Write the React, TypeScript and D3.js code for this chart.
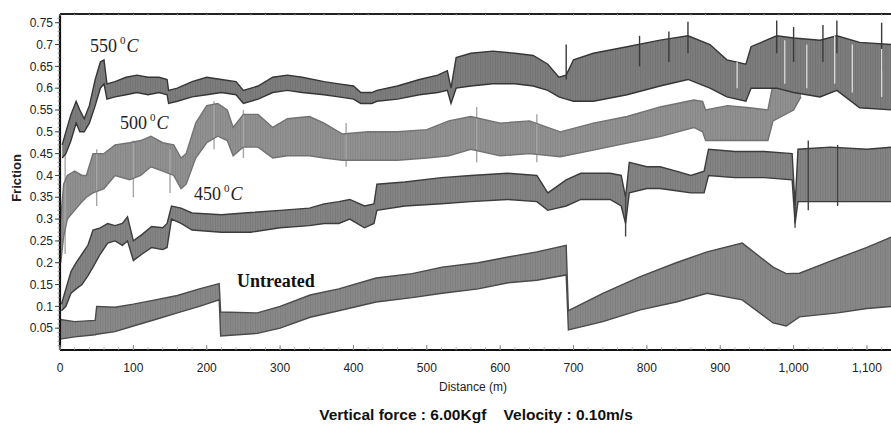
import React from 'react';
import * as d3 from 'd3';

// [distance (m), lower friction, upper friction]
type Row = [number, number, number];

const band550: Row[] = [
  [3, 0.44, 0.47], [8, 0.45, 0.5], [15, 0.48, 0.54], [22, 0.52, 0.57], [27, 0.5, 0.55],
  [33, 0.5, 0.53], [40, 0.52, 0.56], [48, 0.56, 0.62], [55, 0.6, 0.66], [60, 0.61, 0.665],
  [64, 0.575, 0.61], [75, 0.58, 0.615], [90, 0.585, 0.625], [105, 0.59, 0.63], [120, 0.585, 0.625],
  [135, 0.59, 0.625], [146, 0.585, 0.62], [148, 0.565, 0.595], [160, 0.57, 0.6], [180, 0.58, 0.615],
  [200, 0.585, 0.625], [220, 0.59, 0.62], [240, 0.585, 0.615], [250, 0.565, 0.595], [270, 0.575, 0.605],
  [290, 0.59, 0.625], [310, 0.595, 0.63], [330, 0.59, 0.625], [360, 0.585, 0.615], [380, 0.58, 0.61],
  [400, 0.575, 0.605], [410, 0.565, 0.59], [425, 0.565, 0.59], [432, 0.57, 0.595], [460, 0.575, 0.605],
  [490, 0.585, 0.62], [515, 0.59, 0.63], [528, 0.595, 0.64], [533, 0.565, 0.6], [540, 0.6, 0.67],
  [560, 0.605, 0.68], [590, 0.61, 0.685], [620, 0.61, 0.68], [645, 0.605, 0.675], [665, 0.595, 0.655],
  [680, 0.58, 0.625], [690, 0.575, 0.63], [700, 0.57, 0.665], [727, 0.57, 0.68], [773, 0.585, 0.695],
  [818, 0.605, 0.71], [856, 0.62, 0.72], [886, 0.6, 0.7], [909, 0.58, 0.665], [935, 0.57, 0.655],
  [942, 0.6, 0.695], [977, 0.6, 0.72], [1000, 0.59, 0.715], [1036, 0.58, 0.71], [1059, 0.595, 0.72],
  [1090, 0.555, 0.705], [1135, 0.55, 0.7],
];

const band500: Row[] = [
  [1, 0.2, 0.3], [5, 0.26, 0.38], [10, 0.3, 0.4], [20, 0.32, 0.41], [30, 0.34, 0.4],
  [36, 0.35, 0.4], [45, 0.36, 0.45], [60, 0.37, 0.45], [75, 0.4, 0.47], [95, 0.39, 0.475],
  [110, 0.4, 0.48], [124, 0.42, 0.49], [140, 0.41, 0.475], [155, 0.4, 0.47], [165, 0.37, 0.44],
  [172, 0.38, 0.45], [185, 0.44, 0.52], [200, 0.475, 0.56], [215, 0.49, 0.565], [228, 0.48, 0.55],
  [236, 0.445, 0.51], [250, 0.465, 0.54], [270, 0.465, 0.54], [290, 0.44, 0.51], [310, 0.445, 0.53],
  [340, 0.445, 0.535], [360, 0.44, 0.52], [385, 0.435, 0.495], [420, 0.435, 0.5], [460, 0.435, 0.5],
  [500, 0.44, 0.505], [530, 0.445, 0.525], [560, 0.46, 0.535], [600, 0.445, 0.52], [640, 0.45, 0.525],
  [682, 0.443, 0.5], [727, 0.458, 0.52], [773, 0.474, 0.535], [818, 0.489, 0.557], [864, 0.51, 0.573],
  [876, 0.5, 0.57], [880, 0.48, 0.55], [910, 0.48, 0.56], [940, 0.48, 0.555], [965, 0.48, 0.55],
  [972, 0.525, 0.61], [1000, 0.55, 0.6], [1010, 0.58, 0.6],
];

const band450: Row[] = [
  [2, 0.09, 0.105], [8, 0.1, 0.14], [15, 0.13, 0.18], [22, 0.14, 0.2], [30, 0.15, 0.22],
  [38, 0.17, 0.24], [45, 0.19, 0.275], [55, 0.22, 0.28], [65, 0.245, 0.29], [75, 0.25, 0.285],
  [85, 0.24, 0.29], [92, 0.25, 0.305], [100, 0.205, 0.25], [112, 0.22, 0.265], [125, 0.235, 0.283],
  [140, 0.23, 0.28], [146, 0.235, 0.29], [152, 0.3, 0.33], [165, 0.29, 0.325], [180, 0.275, 0.314],
  [220, 0.27, 0.31], [260, 0.27, 0.315], [300, 0.28, 0.32], [340, 0.285, 0.325], [360, 0.29, 0.335],
  [380, 0.29, 0.34], [395, 0.3, 0.345], [415, 0.28, 0.33], [428, 0.29, 0.335], [432, 0.32, 0.38],
  [470, 0.33, 0.385], [520, 0.335, 0.395], [560, 0.34, 0.4], [610, 0.345, 0.405], [650, 0.34, 0.4],
  [665, 0.32, 0.36], [690, 0.33, 0.39], [710, 0.345, 0.405], [750, 0.345, 0.405], [765, 0.33, 0.4],
  [771, 0.29, 0.35], [776, 0.36, 0.43], [800, 0.37, 0.42], [818, 0.37, 0.42], [840, 0.365, 0.41],
  [860, 0.36, 0.4], [878, 0.36, 0.41], [884, 0.4, 0.46], [920, 0.395, 0.455], [960, 0.395, 0.455],
  [998, 0.39, 0.45], [1002, 0.29, 0.33], [1006, 0.34, 0.46], [1050, 0.34, 0.465], [1100, 0.34, 0.46],
  [1135, 0.34, 0.465],
];

const bandUntreated: Row[] = [
  [0, 0.025, 0.07], [20, 0.03, 0.065], [48, 0.035, 0.068], [50, 0.036, 0.1], [75, 0.042, 0.098],
  [100, 0.055, 0.105], [130, 0.07, 0.115], [160, 0.085, 0.125], [190, 0.1, 0.14], [217, 0.115, 0.152],
  [219, 0.032, 0.087], [269, 0.038, 0.085], [300, 0.05, 0.1], [341, 0.075, 0.126], [380, 0.09, 0.14],
  [431, 0.11, 0.165], [480, 0.12, 0.175], [521, 0.13, 0.19], [570, 0.14, 0.2], [611, 0.154, 0.213],
  [650, 0.16, 0.225], [690, 0.172, 0.24], [693, 0.046, 0.09], [740, 0.065, 0.13], [791, 0.092, 0.168],
  [840, 0.11, 0.2], [882, 0.13, 0.225], [930, 0.115, 0.245], [972, 0.062, 0.19], [990, 0.055, 0.175],
  [1008, 0.076, 0.176], [1060, 0.085, 0.21], [1100, 0.095, 0.235], [1135, 0.1, 0.26],
];

// spikes: [distance, from, to]
const spikes550: Row[] = [
  [690, 0.62, 0.7], [790, 0.65, 0.72], [830, 0.66, 0.73], [856, 0.68, 0.752], [977, 0.68, 0.755],
  [1000, 0.66, 0.74], [1040, 0.66, 0.745], [1059, 0.68, 0.755], [1120, 0.64, 0.75],
];
const gaps550: Row[] = [
  [923, 0.6, 0.66], [988, 0.61, 0.71], [1018, 0.6, 0.7], [1056, 0.61, 0.72], [1080, 0.59, 0.7], [1120, 0.58, 0.69],
];
const spikes500: Row[] = [
  [7, 0.22, 0.47], [50, 0.33, 0.46], [100, 0.35, 0.48], [150, 0.36, 0.46], [210, 0.46, 0.57],
  [250, 0.44, 0.55], [390, 0.42, 0.52], [568, 0.43, 0.557], [650, 0.43, 0.54],
];
const spikes450: Row[] = [
  [771, 0.26, 0.35], [1002, 0.28, 0.33], [1020, 0.32, 0.48], [1060, 0.33, 0.47],
];

const yTicks = [0.05, 0.1, 0.15, 0.2, 0.25, 0.3, 0.35, 0.4, 0.45, 0.5, 0.55, 0.6, 0.65, 0.7, 0.75];
const xTicks = [0, 100, 200, 300, 400, 500, 600, 700, 800, 900, 1000, 1100];

const W = 891;
const H = 429;
const left = 60;
const top = 14;
const bottom = 350;

const x = d3.scaleLinear().domain([0, 1150]).range([left, left + 0.7336 * 1150]);
const y = d3.scaleLinear().domain([0, 0.77]).range([bottom, top]);

const area = d3.area<Row>().x(d => x(d[0])).y0(d => y(d[1])).y1(d => y(d[2]));
const lowLine = d3.line<Row>().x(d => x(d[0])).y(d => y(d[1]));
const highLine = d3.line<Row>().x(d => x(d[0])).y(d => y(d[2]));

const series = [
  { id: 's500', data: band500, fill: '#929292', stripe: '#858585', edge: '#727272', spikes: spikes500, spikeColor: '#a6a6a6' },
  { id: 's550', data: band550, fill: '#7e7e7e', stripe: '#727272', edge: '#363636', spikes: spikes550, spikeColor: '#3a3a3a' },
  { id: 's450', data: band450, fill: '#858585', stripe: '#787878', edge: '#3c3c3c', spikes: spikes450, spikeColor: '#444' },
  { id: 'sun', data: bandUntreated, fill: '#898989', stripe: '#7d7d7d', edge: '#4a4a4a', spikes: [] as Row[], spikeColor: '#444' },
];

const fmtY = (v: number) => String(+v.toFixed(2));
const fmtX = d3.format(',');

const App: React.FC = () => {
  const minorY = d3.range(1, 77).map(i => i / 100);
  const minorX = d3.range(0, 1150, 20);
  const serif = '"Liberation Serif", "Times New Roman", serif';
  const narrow = '"Liberation Sans Narrow", "Liberation Sans", Arial, sans-serif';

  return (
    <svg width={W} height={H} style={{ position: 'absolute', left: 0, top: 0, background: '#fff' }}>
      <defs>
        <clipPath id="plot">
          <rect x={left} y={top} width={W - left} height={bottom - top} />
        </clipPath>
        {series.map(s => (
          <pattern key={s.id} id={`tex-${s.id}`} width={2.5} height={6} patternUnits="userSpaceOnUse">
            <rect width={2.5} height={6} fill={s.fill} />
            <rect width={0.9} height={6} fill={s.stripe} />
          </pattern>
        ))}
      </defs>

      <g clipPath="url(#plot)">
        {series.map(s => (
          <g key={s.id}>
            <path d={area(s.data) ?? ''} fill={`url(#tex-${s.id})`} />
            {s.spikes.map((p, i) => (
              <line key={i} x1={x(p[0])} x2={x(p[0])} y1={y(p[1])} y2={y(p[2])} stroke={s.spikeColor} strokeWidth={1.4} />
            ))}
            <path d={highLine(s.data) ?? ''} fill="none" stroke={s.edge} strokeWidth={1.4} />
            <path d={lowLine(s.data) ?? ''} fill="none" stroke={s.edge} strokeWidth={1.4} />
            {s.id === 's550' && gaps550.map((p, i) => (
              <line key={`g${i}`} x1={x(p[0])} x2={x(p[0])} y1={y(p[1])} y2={y(p[2])} stroke="#dcdcdc" strokeWidth={1.3} />
            ))}
          </g>
        ))}
      </g>

      {/* frame */}
      <line x1={left} x2={W} y1={top} y2={top} stroke="#222" strokeWidth={1.8} />
      <line x1={left} x2={W} y1={bottom} y2={bottom} stroke="#111" strokeWidth={2.2} />
      <line x1={left} x2={left} y1={top} y2={bottom} stroke="#111" strokeWidth={2.2} />

      {/* y ticks */}
      {minorY.map(v => (
        <line key={`my${v}`} x1={left - 2.5} x2={left} y1={y(v)} y2={y(v)} stroke="#888" strokeWidth={0.8} />
      ))}
      {yTicks.map(v => (
        <g key={`y${v}`}>
          <line x1={left - 5} x2={left} y1={y(v)} y2={y(v)} stroke="#444" strokeWidth={1} />
          <text x={left - 7} y={y(v)} dy="0.35em" textAnchor="end" fontFamily={narrow} fontSize={12} fill="#222">
            {fmtY(v)}
          </text>
        </g>
      ))}

      {/* x ticks */}
      {minorX.map(v => (
        <g key={`mx${v}`}>
          <line x1={x(v)} x2={x(v)} y1={bottom - 3} y2={bottom} stroke="#aaa" strokeWidth={0.8} />
          <line x1={x(v)} x2={x(v)} y1={top} y2={top + 2} stroke="#bbb" strokeWidth={0.8} />
        </g>
      ))}
      {xTicks.map(v => (
        <g key={`x${v}`}>
          <line x1={x(v)} x2={x(v)} y1={bottom - 5} y2={bottom} stroke="#888" strokeWidth={1} />
          <text x={x(v)} y={368} dy="0.35em" textAnchor="middle" fontFamily={narrow} fontSize={12} fill="#222">
            {fmtX(v)}
          </text>
        </g>
      ))}

      {/* axis titles */}
      <text x={473} y={387} dy="0.35em" textAnchor="middle" fontFamily={narrow} fontSize={12} fill="#222">
        Distance (m)
      </text>
      <text transform="translate(16,178) rotate(-90)" dy="0.35em" textAnchor="middle" fontFamily={narrow} fontWeight="bold" fontSize={13} fill="#222">
        Friction
      </text>
      <text x={476} y={415} dy="0.35em" textAnchor="middle" fontFamily={narrow} fontWeight="bold" fontSize={15.5} fill="#111">
        Vertical force : 6.00Kgf{'\u00a0\u00a0\u00a0\u00a0'}Velocity : 0.10m/s
      </text>

      {/* series labels */}
      <text x={90} y={52} fontFamily={serif} fontSize={18} fill="#222">
        550<tspan fontSize={11} dy={-8} dx={3}>0</tspan>
        <tspan fontStyle="italic" dy={8} dx={1}>C</tspan>
      </text>
      <text x={120} y={129} fontFamily={serif} fontSize={18} fill="#222">
        500<tspan fontSize={11} dy={-8} dx={3}>0</tspan>
        <tspan fontStyle="italic" dy={8} dx={1}>C</tspan>
      </text>
      <text x={194} y={200} fontFamily={serif} fontSize={18} fill="#222">
        450<tspan fontSize={11} dy={-8} dx={3}>0</tspan>
        <tspan fontStyle="italic" dy={8} dx={1}>C</tspan>
      </text>
      <text x={237} y={287} fontFamily={serif} fontWeight="bold" fontSize={18} fill="#111">
        Untreated
      </text>
    </svg>
  );
};

export default App;
